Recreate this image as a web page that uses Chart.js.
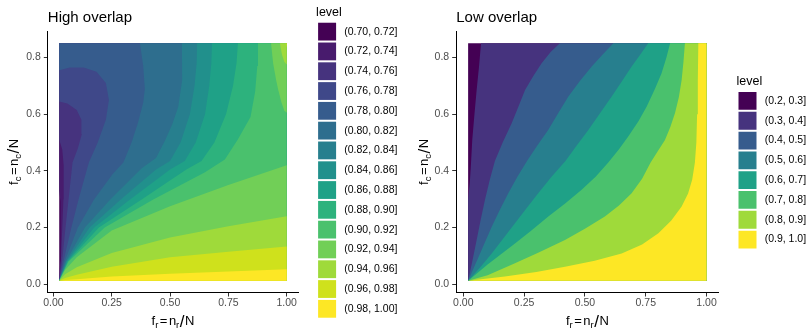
<!DOCTYPE html>
<html><head><meta charset="utf-8">
<script src="https://cdn.jsdelivr.net/npm/chart.js@4.4.1/dist/chart.umd.min.js"></script>
<style>
html,body{margin:0;padding:0;background:#fff;}
#wrap{position:relative;width:807px;height:329px;overflow:hidden;background:#fff;}
canvas{position:absolute;top:0;}
</style></head><body>
<div id="wrap"><canvas id="c1" width="403" height="329" style="left:0px"></canvas><canvas id="c2" width="404" height="329" style="left:403px"></canvas></div>
<script>
// ---------- data ----------
const highTitle = 'High overlap';
const lowTitle = 'Low overlap';
const legendTitle = 'level';
const highLevels = ['(0.70, 0.72]','(0.72, 0.74]','(0.74, 0.76]','(0.76, 0.78]','(0.78, 0.80]','(0.80, 0.82]','(0.82, 0.84]','(0.84, 0.86]','(0.86, 0.88]','(0.88, 0.90]','(0.90, 0.92]','(0.92, 0.94]','(0.94, 0.96]','(0.96, 0.98]','(0.98, 1.00]'];
const lowLevels = ['(0.2, 0.3]','(0.3, 0.4]','(0.4, 0.5]','(0.5, 0.6]','(0.6, 0.7]','(0.7, 0.8]','(0.8, 0.9]','(0.9, 1.0]'];
const highDomainX = [0.025, 1.0];
const highDomainY = [0.0125, 0.85];
const lowDomainX = [0.02, 1.0];
const lowDomainY = [0.0125, 0.85];
const xTickValues = [0, 0.25, 0.5, 0.75, 1];
const xTickLabels = ['0.00','0.25','0.50','0.75','1.00'];
const yTickValues = [0, 0.2, 0.4, 0.6, 0.8];
const yTickLabels = ['0.0','0.2','0.4','0.6','0.8'];
const xTitleParts = [['f','main'],['r','sub'],['=','op'],['n','main'],['r','sub'],['/','slash'],['N','main']];
const yTitleParts = [['f','main'],['c','sub'],['=','op'],['n','main'],['c','sub'],['/','slash'],['N','main']];

// High overlap: contour lines (x, y) between neighbouring levels
const hi072 = [[0.025,0.0125],[0.029,0.08],[0.031,0.2],[0.03,0.29],[0.025,0.33]];
const hi074 = [[0.025,0.0125],[0.032,0.08],[0.038,0.2],[0.043,0.3],[0.044,0.42],[0.038,0.475],[0.025,0.51]];
const hi076 = [[0.025,0.0125],[0.037,0.08],[0.052,0.2],[0.065,0.3],[0.082,0.43],[0.105,0.48],[0.122,0.53],[0.12,0.58],[0.10,0.615],[0.06,0.638],[0.025,0.645]];
const hi078 = [[0.025,0.0125],[0.043,0.08],[0.077,0.2],[0.108,0.3],[0.152,0.43],[0.19,0.5],[0.225,0.58],[0.238,0.65],[0.225,0.71],[0.185,0.75],[0.13,0.765],[0.07,0.765],[0.025,0.755]];
const hi080 = [[0.025,0.0125],[0.048,0.08],[0.105,0.2],[0.175,0.3],[0.255,0.39],[0.30,0.43],[0.335,0.5],[0.362,0.568],[0.385,0.64],[0.392,0.69],[0.385,0.77],[0.371,0.85]];
const hi082 = [[0.025,0.0125],[0.053,0.08],[0.135,0.2],[0.245,0.3],[0.38,0.41],[0.44,0.445],[0.48,0.51],[0.51,0.565],[0.535,0.625],[0.552,0.72],[0.551,0.85]];
const hi084 = [[0.025,0.0125],[0.056,0.08],[0.155,0.2],[0.29,0.3],[0.44,0.405],[0.50,0.435],[0.545,0.5],[0.585,0.6],[0.605,0.7],[0.614,0.78],[0.616,0.85]];
const hi086 = [[0.025,0.0125],[0.059,0.08],[0.175,0.2],[0.33,0.3],[0.50,0.405],[0.563,0.435],[0.61,0.5],[0.65,0.6],[0.668,0.7],[0.677,0.78],[0.68,0.85]];
const hi088 = [[0.025,0.0125],[0.062,0.08],[0.195,0.2],[0.38,0.3],[0.57,0.405],[0.635,0.435],[0.69,0.5],[0.74,0.6],[0.77,0.7],[0.785,0.78],[0.791,0.85]];
const hi090 = [[0.025,0.0125],[0.065,0.08],[0.22,0.2],[0.43,0.3],[0.65,0.395],[0.735,0.44],[0.79,0.51],[0.845,0.59],[0.865,0.68],[0.874,0.77],[0.877,0.85]];
const hi092a = [[0.025,0.0125],[0.05,0.05],[0.1,0.095],[0.25,0.19],[0.5,0.275],[0.75,0.35],[1.0,0.42]];
const hi092b = [[0.933,0.85],[0.942,0.78],[0.955,0.72],[0.964,0.685],[0.978,0.64],[0.99,0.612],[1.0,0.605]];
const hi094a = [[0.025,0.0125],[0.05,0.035],[0.1,0.06],[0.25,0.11],[0.5,0.165],[0.75,0.205],[1.0,0.24]];
const hi094b = [[0.971,0.85],[0.98,0.81],[0.99,0.785],[1.0,0.775]];
const hi096a = [[0.025,0.0125],[0.05,0.022],[0.1,0.034],[0.25,0.062],[0.5,0.095],[0.75,0.115],[1.0,0.133]];
const hi096b = [[0.996,0.85],[1.0,0.835]];
const hi098 = [[0.025,0.0125],[0.05,0.015],[0.1,0.018],[0.25,0.027],[0.5,0.037],[0.75,0.045],[1.0,0.053]];

// Low overlap: contour lines
const lo03 = [[0.02,0.30],[0.027,0.36],[0.032,0.43],[0.037,0.51],[0.046,0.6],[0.055,0.685],[0.065,0.77],[0.073,0.85]];
const lo04 = [[0.02,0.0125],[0.037,0.08],[0.055,0.156],[0.071,0.225],[0.089,0.297],[0.108,0.365],[0.13,0.435],[0.162,0.5],[0.199,0.568],[0.226,0.625],[0.254,0.685],[0.288,0.735],[0.322,0.78],[0.36,0.82],[0.397,0.85]];
const lo05 = [[0.02,0.0125],[0.069,0.109],[0.117,0.203],[0.15,0.262],[0.185,0.321],[0.222,0.378],[0.262,0.435],[0.305,0.49],[0.349,0.544],[0.39,0.603],[0.432,0.662],[0.48,0.718],[0.528,0.768],[0.572,0.81],[0.617,0.85]];
const lo06 = [[0.02,0.0125],[0.07,0.06],[0.117,0.109],[0.2125,0.215],[0.26,0.268],[0.308,0.321],[0.362,0.378],[0.42,0.435],[0.467,0.49],[0.514,0.544],[0.562,0.603],[0.61,0.662],[0.652,0.716],[0.692,0.768],[0.727,0.81],[0.76,0.85]];
const lo07 = [[0.02,0.0125],[0.1,0.07],[0.2125,0.144],[0.28,0.19],[0.3495,0.239],[0.42,0.286],[0.4865,0.333],[0.545,0.38],[0.596,0.43],[0.64,0.476],[0.678,0.521],[0.72,0.575],[0.754,0.627],[0.788,0.69],[0.815,0.744],[0.835,0.8],[0.85,0.85]];
const lo08 = [[0.02,0.0125],[0.1,0.032],[0.2125,0.074],[0.31,0.112],[0.418,0.156],[0.5,0.196],[0.582,0.239],[0.64,0.278],[0.692,0.321],[0.735,0.372],[0.77,0.43],[0.8,0.47],[0.829,0.509],[0.851,0.555],[0.87,0.603],[0.886,0.66],[0.8975,0.721],[0.905,0.785],[0.911,0.85]];
const lo09 = [[0.02,0.0125],[0.171,0.027],[0.3,0.043],[0.418,0.062],[0.54,0.083],[0.651,0.109],[0.735,0.14],[0.802,0.18],[0.855,0.225],[0.8975,0.274],[0.924,0.32],[0.941,0.37],[0.952,0.43],[0.958,0.5],[0.961,0.6],[0.964,0.72],[0.966,0.85]];

// [contour, level index above it, how it meets the panel edge]
const highRegions = [[hi072,1,'loop'],[hi074,2,'loop'],[hi076,3,'loop'],[hi078,4,'loop'],[hi080,5,'top'],[hi082,6,'top'],[hi084,7,'top'],[hi086,8,'top'],[hi088,9,'top'],[hi090,10,'top'],[hi092a,11,'right'],[hi092b,11,'blob'],[hi094a,12,'right'],[hi094b,12,'blob'],[hi096a,13,'right'],[hi096b,13,'blob'],[hi098,14,'right']];
const lowRegions = [[lo03,1,'lefttop'],[lo04,2,'top'],[lo05,3,'top'],[lo06,4,'top'],[lo07,5,'top'],[lo08,6,'top'],[lo09,7,'top']];

// ---------- styles ----------
const viridis15 = ['#440154','#481B6D','#46337E','#3F4889','#365C8D','#2E6E8E','#277F8E','#21908C','#1FA187','#2DB27D','#4AC16D','#71CF57','#9FDA3A','#CFE11C','#FDE725'];
const viridis8 = ['#440154','#46337E','#365C8D','#277F8E','#1FA187','#4AC16D','#9FDA3A','#FDE725'];
const FONT = "'Liberation Sans', Arial, Helvetica, sans-serif";
Chart.defaults.font.family = FONT;
Chart.defaults.color = '#000';

function buildDatasets(regions, domX, domY, palette) {
  const corners = {BL:[domX[0],domY[0]], TL:[domX[0],domY[1]], TR:[domX[1],domY[1]], BR:[domX[1],domY[0]]};
  const closes = {loop:['TL','TR','BR'], top:['TR','BR'], right:['BR'], blob:['TR'], lefttop:['TR','BR','BL']};
  const list = [{pts:[corners.BL, corners.TL, corners.TR, corners.BR], level:0}];
  regions.forEach(([c, lvl, kind]) => list.push({pts: c.concat(closes[kind].map(k => corners[k])), level: lvl}));
  return list.map(r => ({
    data: r.pts.map(([x, y]) => ({x, y})),
    backgroundColor: palette[r.level],
    borderColor: palette[r.level],
    borderWidth: 0, pointRadius: 0, pointHoverRadius: 0,
    fill: 'shape', showLine: true, tension: 0
  })).reverse();
}

function partFont(kind) {
  if (kind === 'sub') return '9.5px ' + FONT;
  if (kind === 'slash') return '17px ' + FONT;
  return '13px ' + FONT;
}
function drawMath(ctx, parts, cx, baseY) {
  const widths = parts.map(([t, k]) => { ctx.font = partFont(k); return ctx.measureText(t).width + (k === 'op' ? 3 : (k === 'slash' ? 1 : 0)); });
  const total = widths.reduce((a, b) => a + b, 0);
  let x = cx - total / 2;
  ctx.textAlign = 'left'; ctx.textBaseline = 'alphabetic';
  parts.forEach(([t, k], i) => {
    ctx.font = partFont(k);
    const dy = k === 'sub' ? 3 : (k === 'slash' ? 1.5 : 0);
    const dx = k === 'op' ? 1.5 : (k === 'slash' ? 0.5 : 0);
    ctx.fillText(t, x + dx, baseY + dy);
    x += widths[i];
  });
}
const mathTitles = {
  id: 'mathTitles',
  afterDraw(chart, args, opts) {
    const ctx = chart.ctx, a = chart.chartArea;
    ctx.save();
    ctx.fillStyle = '#000';
    drawMath(ctx, opts.xParts, (a.left + a.right) / 2, opts.xBase);
    ctx.translate(opts.yBase, (a.top + a.bottom) / 2);
    ctx.rotate(-Math.PI / 2);
    drawMath(ctx, opts.yParts, 0, 0);
    ctx.restore();
  }
};

function makeChart(id, cfg) {
  const axisCommon = {
    type: 'linear',
    grid: {display: true, drawOnChartArea: false, drawTicks: true, tickLength: 4, tickColor: '#333333', tickWidth: 1},
    border: {display: true, color: '#000000', width: 1}
  };
  return new Chart(document.getElementById(id), {
    type: 'line',
    data: {datasets: buildDatasets(cfg.regions, cfg.domX, cfg.domY, cfg.palette)},
    options: {
      responsive: false, animation: false, events: [],
      layout: {padding: 0},
      scales: {
        x: Object.assign({}, axisCommon, {
          min: cfg.xMin, max: cfg.xMax,
          afterBuildTicks: s => { s.ticks = xTickValues.map(v => ({value: v})); },
          afterFit: s => { s.height = 36.5; },
          ticks: {callback: (v, i) => xTickLabels[i], color: '#4D4D4D', font: {size: 10.5}, padding: 0, maxRotation: 0, autoSkip: false}
        }),
        y: Object.assign({}, axisCommon, {
          min: -0.029, max: 0.892,
          afterBuildTicks: s => { s.ticks = yTickValues.map(v => ({value: v})); },
          afterFit: s => { s.width = cfg.yWidth; },
          ticks: {callback: (v, i) => yTickLabels[i], color: '#4D4D4D', font: {size: 10.5}, padding: 3, autoSkip: false}
        }),
        gap: {type: 'linear', position: 'right', display: true, ticks: {display: false}, grid: {display: false}, border: {display: false}, afterFit: s => { s.width = 18; }}
      },
      plugins: {
        legend: {
          display: true, position: 'right', maxWidth: cfg.legendWidth,
          labels: {
            boxWidth: 18, boxHeight: 17.8, padding: 2, color: '#1A1A1A', font: {size: 10.5},
            generateLabels: () => cfg.levels.map((t, i) => ({text: ' ' + t, fillStyle: cfg.palette[i], strokeStyle: cfg.palette[i], lineWidth: 0, hidden: false, index: i}))
          },
          title: {display: true, text: legendTitle, position: 'start', color: '#000', font: {size: 12.5, weight: 'normal'}, padding: {top: -3.1, bottom: -0.45}}
        },
        title: {display: true, text: cfg.title, align: 'start', fullSize: false, color: '#000', font: {size: 15, weight: 'normal'}, padding: {top: 9, bottom: 4.4}},
        tooltip: {enabled: false},
        mathTitles: {xParts: xTitleParts, yParts: yTitleParts, xBase: 325, yBase: cfg.yTitleX}
      }
    },
    plugins: [mathTitles]
  });
}

makeChart('c1', {regions: highRegions, domX: highDomainX, domY: highDomainY, palette: viridis15, levels: highLevels,
  title: highTitle, xMin: -0.024, xMax: 1.049, yWidth: 47.8, legendWidth: 86.9, yTitleX: 17.5});
makeChart('c2', {regions: lowRegions, domX: lowDomainX, domY: lowDomainY, palette: viridis8, levels: lowLevels,
  title: lowTitle, xMin: -0.029, xMax: 1.049, yWidth: 53.2, legendWidth: 70.5, yTitleX: 25});
</script></body></html>
